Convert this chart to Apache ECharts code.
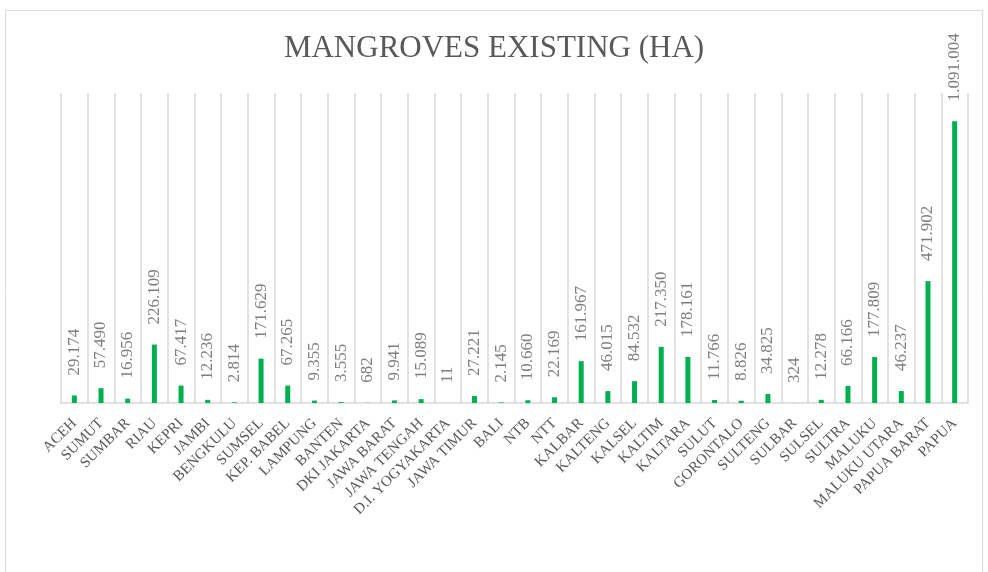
<!DOCTYPE html>
<html>
<head>
<meta charset="utf-8">
<script src="https://cdn.jsdelivr.net/npm/echarts@6/dist/echarts.min.js"></script>
<style>
html,body{margin:0;padding:0;background:#fff;}
#main{width:988px;height:572px;}
</style>
</head>
<body>
<div id="main"></div>
<script>
var titleText = 'MANGROVES EXISTING (HA)';
var categories = ['ACEH','SUMUT','SUMBAR','RIAU','KEPRI','JAMBI','BENGKULU','SUMSEL','KEP. BABEL','LAMPUNG','BANTEN','DKI JAKARTA','JAWA BARAT','JAWA TENGAH','D.I. YOGYAKARTA','JAWA TIMUR','BALI','NTB','NTT','KALBAR','KALTENG','KALSEL','KALTIM','KALTARA','SULUT','GORONTALO','SULTENG','SULBAR','SULSEL','SULTRA','MALUKU','MALUKU UTARA','PAPUA BARAT','PAPUA'];
var mangroveHa = [29174,57490,16956,226109,67417,12236,2814,171629,67265,9355,3555,682,9941,15089,11,27221,2145,10660,22169,161967,46015,84532,217350,178161,11766,8826,34825,324,12278,66166,177809,46237,471902,1091004];

function fmt(v){ return String(v).replace(/\B(?=(\d{3})+(?!\d))/g, '.'); }

var serifFont = "'Liberation Serif', serif";

var chart = echarts.init(document.getElementById('main'));
chart.setOption({
  animation: false,
  backgroundColor: '#ffffff',
  graphic: [{
    type: 'rect',
    shape: {x: 5.5, y: 10.5, width: 977, height: 600},
    style: {fill: 'none', stroke: '#d9d9d9', lineWidth: 1},
    silent: true
  }],
  title: {
    text: titleText,
    left: 'center',
    top: 28,
    textStyle: {fontFamily: serifFont, fontSize: 31, fontWeight: 'normal', color: '#595959'}
  },
  grid: {left: 61, right: 20, top: 93, bottom: 169, containLabel: false},
  xAxis: {
    type: 'category',
    data: categories,
    boundaryGap: true,
    axisLine: {show: true, lineStyle: {color: '#d9d9d9', width: 1.5}},
    axisTick: {show: false},
    splitLine: {show: true, interval: 0, lineStyle: {color: '#d9d9d9', width: 1.5}},
    axisLabel: {
      interval: 0, rotate: 45, margin: 18,
      fontFamily: serifFont, fontSize: 15, color: '#595959'
    }
  },
  yAxis: {
    type: 'value', min: 0, max: 1200000, interval: 200000,
    show: false, splitLine: {show: false}
  },
  series: [{
    type: 'bar',
    data: mangroveHa,
    barWidth: 5,
    itemStyle: {color: '#00b050'},
    label: {
      show: true, position: 'top', distance: 20, rotate: 90,
      align: 'left', verticalAlign: 'middle',
      fontFamily: serifFont, fontSize: 17, color: '#7f7f7f',
      formatter: function(p){ return fmt(p.value); }
    }
  }]
});
</script>
</body>
</html>
